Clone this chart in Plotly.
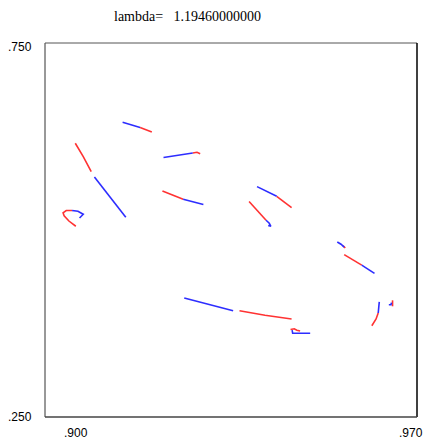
import plotly.graph_objects as go

title_text = "lambda=\u00a0\u00a0 1.19460000000"
x_range = [0.900, 0.970]
y_range = [0.250, 0.750]
x_tick_labels = [".900", ".970"]
y_tick_labels = [".250", ".750"]

# red branches (None separates pieces)
red_x = [0.9179, 0.9190, 0.9201, None,
         0.9278, 0.9286, 0.9292, None,
         0.9057, 0.9072, 0.9087, None,
         0.9221, 0.9241, 0.9260, None,
         0.9051, 0.9040, 0.9034, 0.9036, 0.9045, 0.9058, None,
         0.9436, 0.9450, 0.9464, None,
         0.9384, 0.9400, 0.9416, None,
         0.9561, 0.9565, None,
         0.9563, 0.9580, 0.9596, None,
         0.9627, 0.9623, 0.9615, None,
         0.9654, 0.9654, None,
         0.9366, 0.9414, 0.9464, None,
         0.9462, 0.9469, 0.9474, 0.9480]
red_y = [0.637, 0.634, 0.631, None,
         0.603, 0.604, 0.602, None,
         0.616, 0.598, 0.578, None,
         0.552, 0.546, 0.541, None,
         0.526, 0.526, 0.523, 0.519, 0.512, 0.505, None,
         0.545, 0.537, 0.530, None,
         0.538, 0.525, 0.513, None,
         0.479, 0.476, None,
         0.467, 0.460, 0.453, None,
         0.389, 0.381, 0.372, None,
         0.406, 0.398, None,
         0.392, 0.386, 0.381, None,
         0.367, 0.368, 0.366, 0.365]

# blue branches
blue_x = [0.9146, 0.9162, 0.9179, None,
          0.9223, 0.9250, 0.9278, None,
          0.9093, 0.9122, 0.9152, None,
          0.9260, 0.9278, 0.9298, None,
          0.9051, 0.9062, 0.9072, 0.9068, 0.9065, None,
          0.9399, 0.9418, 0.9436, None,
          0.9416, 0.9422, 0.9425, 0.9420, None,
          0.9550, 0.9557, 0.9563, None,
          0.9596, 0.9608, 0.9620, None,
          0.9629, 0.9628, 0.9627, None,
          0.9647, 0.9651, 0.9652, None,
          0.9262, 0.9307, 0.9354, None,
          0.9465, 0.9466, 0.9480, 0.9499]
blue_y = [0.644, 0.641, 0.637, None,
          0.597, 0.600, 0.603, None,
          0.571, 0.544, 0.517, None,
          0.541, 0.538, 0.534, None,
          0.526, 0.525, 0.521, 0.518, 0.516, None,
          0.558, 0.551, 0.545, None,
          0.513, 0.509, 0.505, 0.506, None,
          0.484, 0.481, 0.477, None,
          0.453, 0.448, 0.442, None,
          0.404, 0.397, 0.389, None,
          0.400, 0.400, 0.403, None,
          0.409, 0.401, 0.392, None,
          0.366, 0.362, 0.362, 0.362]

fig = go.Figure()
fig.add_trace(go.Scatter(x=red_x, y=red_y, mode="lines", connectgaps=False,
                         line=dict(color="rgb(255,50,50)", width=1.6), hoverinfo="skip"))
fig.add_trace(go.Scatter(x=blue_x, y=blue_y, mode="lines", connectgaps=False,
                         line=dict(color="rgb(45,45,255)", width=1.6), hoverinfo="skip"))

fig.update_layout(
    width=427, height=445,
    margin=dict(l=45, r=10, t=43, b=28),
    paper_bgcolor="white", plot_bgcolor="white",
    showlegend=False,
    xaxis=dict(range=x_range, showgrid=False, zeroline=False, showticklabels=False,
               ticks="", showline=False),
    yaxis=dict(range=y_range, showgrid=False, zeroline=False, showticklabels=False,
               ticks="", showline=False),
    font=dict(family="Liberation Sans, Arial, sans-serif", size=12, color="black"),
)

# frame
fig.add_shape(type="line", xref="paper", yref="paper", x0=0, y0=0, x1=0, y1=1,
              line=dict(color="#333", width=1))
fig.add_shape(type="line", xref="paper", yref="paper", x0=0, y0=1, x1=1, y1=1,
              line=dict(color="#555", width=1))
fig.add_shape(type="line", xref="paper", yref="paper", x0=1, y0=0, x1=1, y1=1,
              line=dict(color="#000", width=1.5))
fig.add_shape(type="line", xref="paper", yref="paper", x0=0, y0=0, x1=1, y1=0,
              line=dict(color="#444", width=1.5))

# title
fig.add_annotation(text=title_text, xref="paper", yref="paper", x=0.383, y=1.0,
                   yshift=27, showarrow=False, xanchor="center", yanchor="middle",
                   font=dict(family="Liberation Serif, serif", size=14, color="black"))

# axis end labels
fig.add_annotation(text=y_tick_labels[1], xref="paper", yref="y", x=0, y=y_range[1],
                   xshift=-25, yshift=-4, showarrow=False, xanchor="center", yanchor="middle")
fig.add_annotation(text=y_tick_labels[0], xref="paper", yref="y", x=0, y=y_range[0],
                   xshift=-25, yshift=0, showarrow=False, xanchor="center", yanchor="middle")
fig.add_annotation(text=x_tick_labels[0], xref="x", yref="paper", x=x_range[0], y=0,
                   xshift=31, yshift=-16, showarrow=False, xanchor="center", yanchor="middle")
fig.add_annotation(text=x_tick_labels[1], xref="x", yref="paper", x=x_range[1], y=0,
                   xshift=-6, yshift=-16, showarrow=False, xanchor="center", yanchor="middle")

fig.write_html("out.html", config={"displayModeBar": False},
               post_script="document.body.style.margin='0';")
